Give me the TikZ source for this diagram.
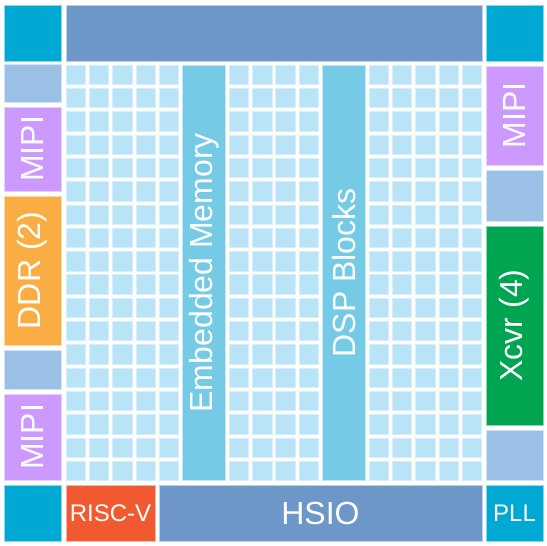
\documentclass[tikz,border=0pt]{standalone}
\usepackage{fontspec}
\setmainfont{Liberation Sans}
\usepackage{graphicx}
\usepackage{tikz}
\usepackage{xcolor}
\usetikzlibrary{positioning}
\definecolor{ioCyan}{RGB}{0,169,212}
\definecolor{hsioBlue}{RGB}{109,151,201}
\definecolor{spareBlue}{RGB}{155,192,230}
\definecolor{mipiPurple}{RGB}{204,153,255}
\definecolor{ddrOrange}{RGB}{250,173,67}
\definecolor{xcvrGreen}{RGB}{0,165,81}
\definecolor{riscRed}{RGB}{241,90,49}
\definecolor{logicCell}{RGB}{185,228,248}
\definecolor{memBlue}{RGB}{117,203,230}

\begin{document}
\begin{tikzpicture}[
            x=1pt, y=-1pt,
            blk/.style={rectangle, inner sep=0pt, fill=#1, draw=#1!45, line width=0.7pt, text=white, font=\fontsize{32}{36}\selectfont},
            small/.style={font=\fontsize{24}{28}\selectfont},
            cell/.style={fill=logicCell, draw=logicCell!60, line width=0.5pt}
        ]
            \useasboundingbox (0,0) rectangle (547,546);

            % corners and top row
            \node[blk=ioCyan, minimum width=57pt, minimum height=56pt] (tl) at (32.5,33) {};
            \node[blk=hsioBlue, minimum width=416pt, minimum height=56pt] (top) at (274,33) {};
            \node[blk=ioCyan, minimum width=57pt, minimum height=56pt] (tr) at (514.5,33) {};

            % left column
            \node[blk=spareBlue, minimum width=57pt, minimum height=38pt] (spareL1) at (32.5,83) {};
            \node[blk=mipiPurple, minimum width=57pt, minimum height=84pt] (mipiL1) at (32.5,149) {\rotatebox{90}{MIPI}};
            \node[blk=ddrOrange, minimum width=57pt, minimum height=149pt] (ddr) at (32.5,270.5) {\rotatebox{90}{DDR (2)}};
            \node[blk=spareBlue, minimum width=57pt, minimum height=39pt] (spareL2) at (32.5,369.5) {};
            \node[blk=mipiPurple, minimum width=57pt, minimum height=86pt] (mipiL2) at (32.5,437) {\rotatebox{90}{MIPI}};
            \node[blk=ioCyan, minimum width=57pt, minimum height=56pt] (bl) at (32.5,513) {};

            % right column
            \node[blk=mipiPurple, minimum width=57pt, minimum height=99pt] (mipiR) at (514.5,115.5) {\rotatebox{90}{MIPI}};
            \node[blk=spareBlue, minimum width=57pt, minimum height=51pt] (spareR1) at (514.5,195.5) {};
            \node[blk=xcvrGreen, minimum width=57pt, minimum height=199pt] (xcvr) at (514.5,325.5) {\rotatebox{90}{Xcvr (4)}};
            \node[blk=spareBlue, minimum width=57pt, minimum height=50pt] (spareR2) at (514.5,455) {};
            \node[blk=ioCyan, small, minimum width=57pt, minimum height=56pt] (pll) at (514.5,513) {PLL};

            % bottom row
            \node[blk=riscRed, small, minimum width=89pt, minimum height=56pt] (riscv) at (110.5,513) {RISC-V};
            \node[blk=hsioBlue, minimum width=323pt, minimum height=56pt] (hsio) at (320.5,513) {HSIO};

            % logic fabric
            \foreach \i in {0,...,4,7,8,9,10,13,14,...,17}
                \foreach \j in {0,...,17}
                    \path[cell] ({66+23.3*\i},{65+23.3*\j}) rectangle ++(19.4,19.4);
            \node[blk=memBlue, minimum width=42.8pt, minimum height=415.5pt] (mem) at (203.9,272.75) {\rotatebox{90}{Embedded Memory}};
            \node[blk=memBlue, minimum width=42.8pt, minimum height=415.5pt] (dsp) at (343.7,272.75) {\rotatebox{90}{DSP Blocks}};
        \end{tikzpicture}
\end{document}
